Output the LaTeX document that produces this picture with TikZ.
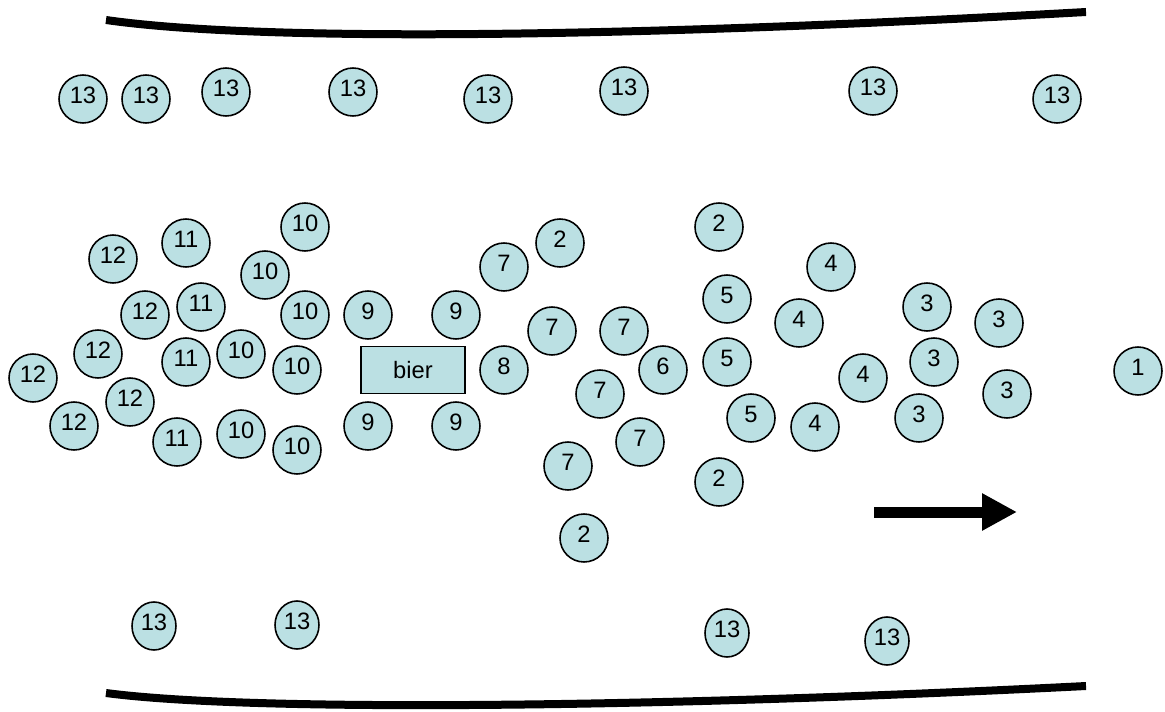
\documentclass[tikz,border=0pt]{standalone}
\usepackage{fontspec}
\setmainfont{Liberation Sans}
\usepackage{xcolor}
\usepackage{tikz}
\usetikzlibrary{arrows.meta,shapes.geometric}
\definecolor{guestfill}{RGB}{187,224,227}

\begin{document}
\begin{tikzpicture}[
        x=0.02cm, y=-0.02cm,
        font=\fontsize{13.5}{16}\selectfont,
        guest/.style={
            draw, circle, fill=guestfill,
            line width=0.9pt,
            minimum size=0.96cm,
            text depth=0.14cm,
            inner sep=0pt
        },
        outer/.style={
            guest, ellipse,
            minimum width=0.88cm, minimum height=0.96cm
        },
        table/.style={
            draw, rectangle, fill=guestfill,
            line width=0.9pt,
            minimum width=2.08cm, minimum height=0.94cm,
            inner sep=0pt
        },
        wall/.style={line width=0.16cm},
        flow/.style={line width=0.22cm, -{Triangle[length=0.7cm, width=0.7cm]}}
    ]
    \useasboundingbox (0,0) rectangle (1165,712);

    % Walls
    \coordinate (topstart) at (106,20);
    \coordinate (topend) at (1086,12);
    \coordinate (botstart) at (106,693);
    \coordinate (botend) at (1086,686);
    \draw[wall] (topstart) .. controls (260,42) and (620,38) .. (topend);
    \draw[wall] (botstart) .. controls (250,712) and (650,708) .. (botend);

    % Top row along the wall
    \node[guest] (p13a) at (83,99) {13};
    \node[guest] (p13b) at (146,99) {13};
    \node[guest] (p13c) at (226,92) {13};
    \node[guest] (p13d) at (353,92) {13};
    \node[guest] (p13e) at (488,99) {13};
    \node[guest] (p13f) at (624,91) {13};
    \node[guest] (p13g) at (873,91) {13};
    \node[guest] (p13h) at (1057,99) {13};

    % The beer table
    \node[table] (bier) at (413,370) {bier};
    \node[guest] (p9a) at (368,315) {9};
    \node[guest] (p9b) at (456,315) {9};
    \node[guest] (p9c) at (368,426) {9};
    \node[guest] (p9d) at (456,426) {9};

    % Queue behind the table
    \node[guest] (p10a) at (305,227) {10};
    \node[guest] (p10b) at (265,275) {10};
    \node[guest] (p10c) at (305,315) {10};
    \node[guest] (p10d) at (241,354) {10};
    \node[guest] (p10e) at (297,370) {10};
    \node[guest] (p10f) at (241,434) {10};
    \node[guest] (p10g) at (297,450) {10};

    \node[guest] (p11a) at (186,243) {11};
    \node[guest] (p11b) at (201,307) {11};
    \node[guest] (p11c) at (186,362) {11};
    \node[guest] (p11d) at (177,442) {11};

    \node[guest] (p12a) at (113,259) {12};
    \node[guest] (p12b) at (145,315) {12};
    \node[guest] (p12c) at (98,354) {12};
    \node[guest] (p12d) at (33,378) {12};
    \node[guest] (p12e) at (130,402) {12};
    \node[guest] (p12f) at (74,426) {12};

    % In front of the table
    \node[guest] (p8) at (504,370) {8};
    \node[guest] (p7a) at (504,267) {7};
    \node[guest] (p7b) at (552,331) {7};
    \node[guest] (p7c) at (624,331) {7};
    \node[guest] (p7d) at (600,394) {7};
    \node[guest] (p7e) at (640,442) {7};
    \node[guest] (p7f) at (568,466) {7};
    \node[guest] (p6) at (663,370) {6};

    \node[guest] (p5a) at (727,299) {5};
    \node[guest] (p5b) at (727,362) {5};
    \node[guest] (p5c) at (751,418) {5};

    \node[guest] (p4a) at (831,267) {4};
    \node[guest] (p4b) at (799,323) {4};
    \node[guest] (p4c) at (863,378) {4};
    \node[guest] (p4d) at (815,427) {4};

    \node[guest] (p3a) at (927,307) {3};
    \node[guest] (p3b) at (999,323) {3};
    \node[guest] (p3c) at (934,362) {3};
    \node[guest] (p3d) at (1007,394) {3};
    \node[guest] (p3e) at (919,418) {3};

    \node[guest] (p2a) at (560,243) {2};
    \node[guest] (p2b) at (719,227) {2};
    \node[guest] (p2c) at (719,482) {2};
    \node[guest] (p2d) at (584,538) {2};

    \node[guest] (p1) at (1138,371) {1};

    % Bottom row along the wall
    \node[outer] (p13i) at (154,626) {13};
    \node[outer] (p13j) at (297,625) {13};
    \node[outer] (p13k) at (727,633) {13};
    \node[outer] (p13l) at (887,641) {13};

    % Direction of the crowd
    \coordinate (flowstart) at (874,512);
    \coordinate (flowend) at (1017,512);
    \draw[flow] (flowstart) -- (flowend);

    \end{tikzpicture}
\end{document}
